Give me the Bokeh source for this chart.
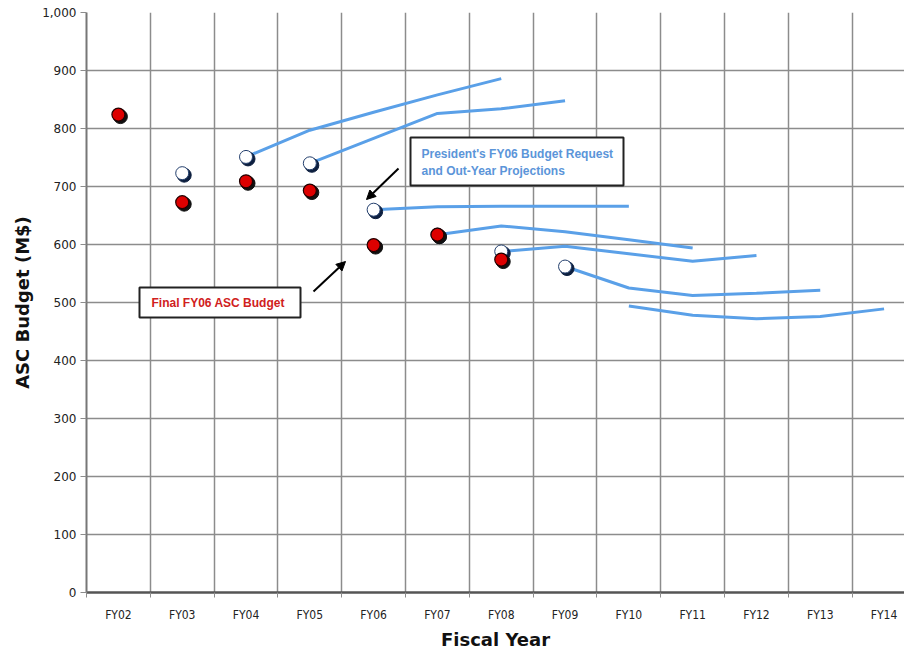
from bokeh.plotting import figure
from bokeh.models import (Range1d, FixedTicker, NumeralTickFormatter, Label,
                          BoxAnnotation, Arrow, NormalHead)
from bokeh.embed import file_html
from bokeh.resources import INLINE

# ---------------- data ----------------
years = ["FY02", "FY03", "FY04", "FY05", "FY06", "FY07", "FY08",
         "FY09", "FY10", "FY11", "FY12", "FY13", "FY14"]
y_ticks = [0, 100, 200, 300, 400, 500, 600, 700, 800, 900, 1000]

final_years = ["FY02", "FY03", "FY04", "FY05", "FY06", "FY07", "FY08"]
final_budget = [824, 673, 709, 693, 599, 617, 574]

request_years = ["FY03", "FY04", "FY05", "FY06", "FY07", "FY08", "FY09"]
request_budget = [723, 751, 740, 660, 617, 588, 562]

proj_starts = ["FY04", "FY05", "FY06", "FY07", "FY08", "FY09", "FY10"]
proj_fy04 = [751, 797, 828, 858, 886]
proj_fy05 = [740, 783, 826, 834, 848]
proj_fy06 = [660, 665, 666, 666, 666]
proj_fy07 = [617, 632, 622, 608, 594]
proj_fy08 = [588, 597, 584, 571, 581]
proj_fy09 = [562, 525, 512, 516, 521]
proj_fy10 = [494, 478, 472, 476, 489]
projections = [proj_fy04, proj_fy05, proj_fy06, proj_fy07, proj_fy08, proj_fy09, proj_fy10]

# ---------------- figure ----------------
W, H = 904, 652
BL, BT, BB = 86, 12, 60
X_END = 12.32
p = figure(width=W, height=H, output_backend="svg", toolbar_location=None,
           x_range=Range1d(-0.5, X_END), y_range=Range1d(0, 1000),
           min_border_left=BL, min_border_right=0, min_border_top=BT,
           min_border_bottom=BB)
p.outline_line_color = None
p.background_fill_color = "white"

px_per_x = (W - BL) / (X_END + 0.5)
px_per_y = (H - BT - BB) / 1000.0

# grid
p.xgrid.ticker = FixedTicker(ticks=[i - 0.5 for i in range(len(years) + 1)])
p.ygrid.ticker = FixedTicker(ticks=y_ticks)
for g in (p.xgrid, p.ygrid):
    g.grid_line_color = "#8c8c8c"
    g.grid_line_width = 1.5

# axes
p.xaxis.ticker = FixedTicker(ticks=list(range(len(years))),
                             minor_ticks=[i - 0.5 for i in range(len(years) + 1)])
p.xaxis.major_label_overrides = {i: y for i, y in enumerate(years)}
p.xaxis.major_tick_out = 0
p.xaxis.major_tick_in = 0
p.xaxis.minor_tick_out = 5
p.xaxis.minor_tick_in = 0
p.xaxis.minor_tick_line_color = "#8c8c8c"
p.xaxis.axis_line_color = "#555555"
p.xaxis.axis_line_width = 2.5
p.xaxis.major_label_text_font = "Liberation Sans Narrow, DejaVu Sans Condensed, sans-serif"
p.xaxis.major_label_text_font_size = "12px"
p.xaxis.major_label_text_color = "#222222"
p.xaxis.major_label_standoff = 10
p.xaxis.axis_label = "Fiscal Year"
p.xaxis.axis_label_text_font = "DejaVu Sans"
p.xaxis.axis_label_text_font_style = "bold"
p.xaxis.axis_label_text_font_size = "18px"
p.xaxis.axis_label_text_color = "#111111"
p.xaxis.axis_label_standoff = 4

p.yaxis.ticker = FixedTicker(ticks=y_ticks)
p.yaxis.formatter = NumeralTickFormatter(format="0,0")
p.yaxis.major_tick_out = 6
p.yaxis.major_tick_in = 0
p.yaxis.minor_tick_out = 0
p.yaxis.minor_tick_in = 0
p.yaxis.major_tick_line_color = "#8c8c8c"
p.yaxis.axis_line_color = "#777777"
p.yaxis.axis_line_width = 2
p.yaxis.major_label_text_font = "DejaVu Sans"
p.yaxis.major_label_text_font_size = "12px"
p.yaxis.major_label_text_color = "#222222"
p.yaxis.major_label_standoff = 4
p.yaxis.axis_label = "ASC Budget (M$)"
p.yaxis.axis_label_text_font = "DejaVu Sans"
p.yaxis.axis_label_text_font_style = "bold"
p.yaxis.axis_label_text_font_size = "18px"
p.yaxis.axis_label_text_color = "#111111"
p.yaxis.axis_label_standoff = 6

# ---------------- projection lines ----------------
line_color = "#5aa0e8"
for start, vals in zip(proj_starts, projections):
    i0 = years.index(start)
    xs = [i0 + k for k in range(len(vals))]
    p.line(xs, vals, line_color=line_color, line_width=3)

# ---------------- markers ----------------
dx = 2.0 / px_per_x
dy = 2.0 / px_per_y

rx = [years.index(y) for y in request_years]
p.scatter([x + dx for x in rx], [v - dy for v in request_budget], size=14,
          marker="circle", fill_color="#0d1f3f", line_color="#0d1f3f")
p.scatter(rx, request_budget, size=13, marker="circle",
          fill_color="white", line_color="#24406e", line_width=1)

fx = [years.index(y) for y in final_years]
p.scatter([x + dx for x in fx], [v - dy for v in final_budget], size=14,
          marker="circle", fill_color="#111111", line_color="#111111")
p.scatter(fx, final_budget, size=13, marker="circle",
          fill_color="#dd0000", line_color="#220000", line_width=1.2)

# ---------------- annotations ----------------
def xd(px):
    return (px - BL) / px_per_x - 0.5

def yd(py):
    return (H - BB - py) / px_per_y

p.add_layout(BoxAnnotation(left=xd(410), right=xd(623), top=yd(137), bottom=yd(185),
                           fill_color="white", fill_alpha=1.0,
                           line_color="#222222", line_width=2, line_alpha=1.0))
p.add_layout(Label(x=xd(421), y=yd(153), text="President's FY06 Budget Request",
                   text_font="Liberation Sans", text_font_size="12px",
                   text_font_style="bold", text_color="#5b95d9",
                   text_baseline="middle"))
p.add_layout(Label(x=xd(421), y=yd(170), text="and Out-Year Projections",
                   text_font="Liberation Sans", text_font_size="12px",
                   text_font_style="bold", text_color="#5b95d9",
                   text_baseline="middle"))

p.add_layout(BoxAnnotation(left=xd(139), right=xd(300), top=yd(287), bottom=yd(317),
                           fill_color="white", fill_alpha=1.0,
                           line_color="#222222", line_width=2, line_alpha=1.0))
p.add_layout(Label(x=xd(151), y=yd(302), text="Final FY06 ASC Budget",
                   text_font="Liberation Sans", text_font_size="12px",
                   text_font_style="bold", text_color="#d02020",
                   text_baseline="middle"))

p.add_layout(Arrow(end=NormalHead(size=9, fill_color="black", line_color="black"),
                   x_start=xd(398), y_start=yd(168), x_end=xd(366), y_end=yd(199),
                   line_color="black", line_width=2))
p.add_layout(Arrow(end=NormalHead(size=9, fill_color="black", line_color="black"),
                   x_start=xd(313), y_start=yd(291), x_end=xd(345), y_end=yd(261),
                   line_color="black", line_width=2))

open("out.html", "w").write(file_html(p, INLINE))
